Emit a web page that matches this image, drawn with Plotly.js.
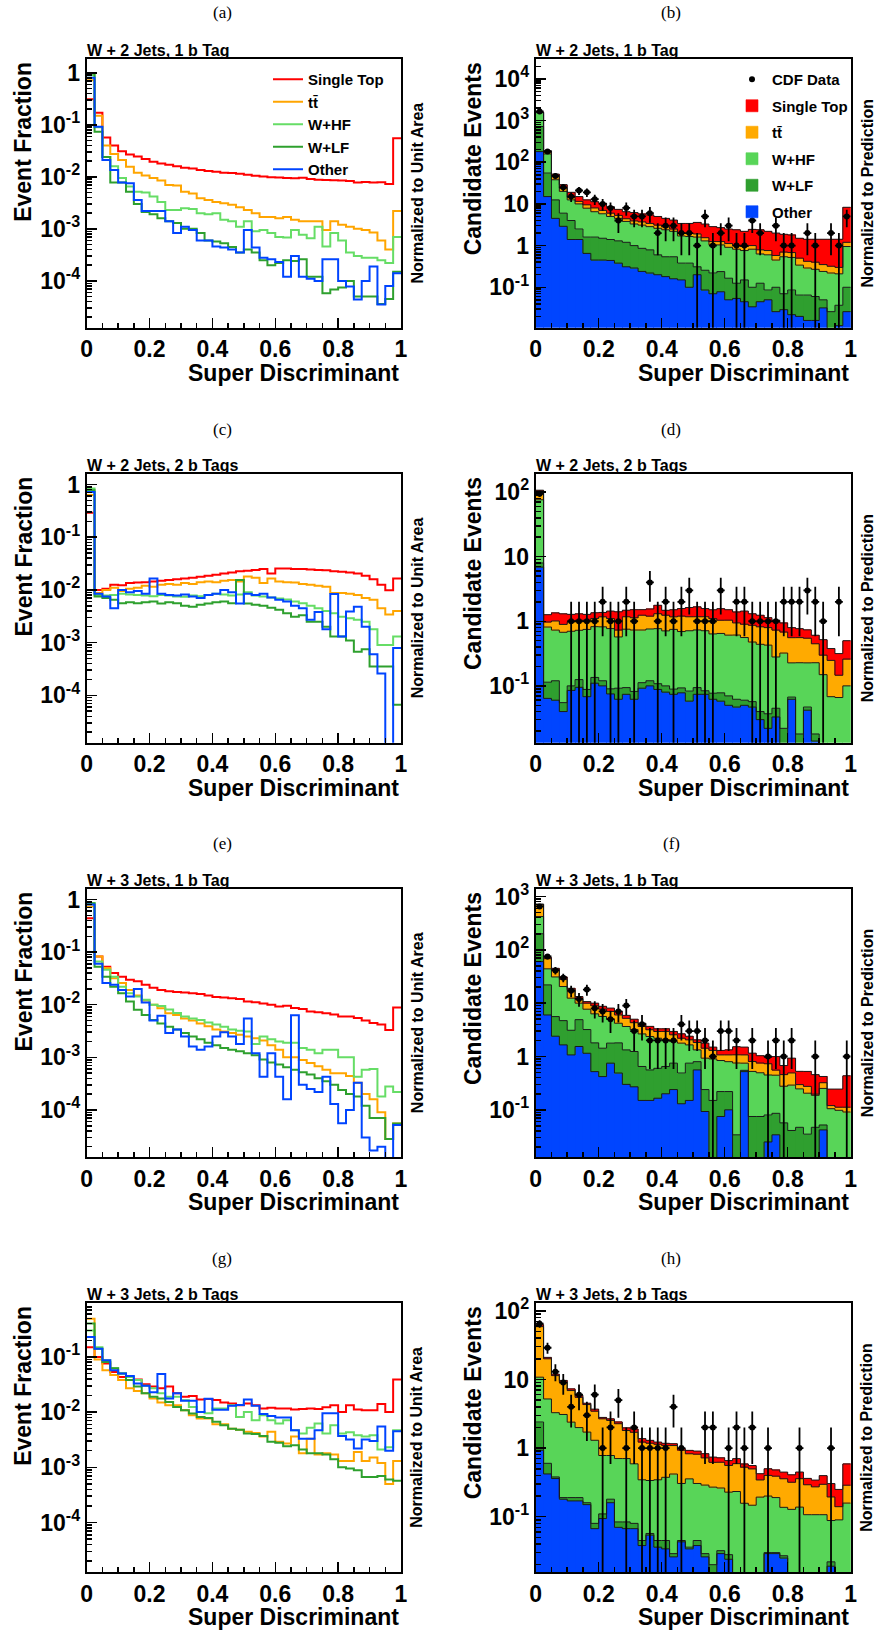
<!DOCTYPE html>
<html><head><meta charset="utf-8">
<script src="https://cdn.plot.ly/plotly-3.0.1.min.js"></script>
<style>html,body{margin:0;padding:0;background:#fff}</style>
</head><body>
<div id="chart" style="width:878px;height:1634px"></div>
<script>
// ---------------- DATA (40 bins of the Super Discriminant, 0..1) ----------------
const processNames = ['Single Top', 't\u0074\u0304', 'W+HF', 'W+LF', 'Other'];
const panelTitles = ['W + 2 Jets, 1 b Tag', 'W + 2 Jets, 2 b Tags', 'W + 3 Jets, 1 b Tag', 'W + 3 Jets, 2 b Tags'];
const panelLetters = ['(a)', '(b)', '(c)', '(d)', '(e)', '(f)', '(g)', '(h)'];

// (a) W+2 jets, 1 tag : normalized shapes
const a_st = [0.31,0.17,0.057,0.040,0.031,0.027,0.0245,0.022,0.0195,0.018,0.017,0.016,0.015,0.0145,0.0135,0.013,0.0125,0.012,0.0118,0.0115,0.011,0.0105,0.0102,0.0098,0.0097,0.0095,0.0094,0.0096,0.0091,0.0088,0.0087,0.0086,0.0085,0.0083,0.0078,0.0080,0.0078,0.0079,0.0073,0.055];
const a_tt = [0.72,0.15,0.040,0.0275,0.021,0.0157,0.012,0.0106,0.0095,0.0085,0.007,0.0068,0.0052,0.0048,0.0039,0.0036,0.0033,0.0031,0.0029,0.0026,0.0023,0.0020,0.0017,0.0017,0.0016,0.0017,0.0015,0.0014,0.0014,0.0014,0.00095,0.0014,0.0012,0.0011,0.001,0.00095,0.00085,0.0006,0.0004,0.0022];
const a_whf = [0.9,0.09,0.024,0.016,0.0095,0.0065,0.0052,0.005,0.0042,0.0033,0.0023,0.0023,0.0025,0.0024,0.002,0.0019,0.002,0.0015,0.0014,0.0011,0.0014,0.0009,0.00095,0.00083,0.0007,0.00068,0.00095,0.00077,0.00066,0.0011,0.00046,0.00083,0.0006,0.00035,0.0003,0.00028,0.00028,0.00025,0.00022,0.0007];
const a_wlf = [0.97,0.074,0.024,0.0078,0.0078,0.0052,0.003,0.0021,0.0019,0.0016,0.0014,0.0013,0.001,0.001,0.00083,0.0006,0.00057,0.00053,0.00045,0.00035,0.0004,0.00035,0.00025,0.0002,0.00022,0.00025,0.00024,0.00026,0.00012,0.00012,0.000058,0.000068,0.000075,0.0001,0.00005,0.00005,0.00005,0.000036,0.000045,0.00015];
const a_other = [0.8,0.092,0.021,0.0135,0.0078,0.0075,0.0036,0.0022,0.0022,0.0022,0.0014,0.00083,0.0011,0.00095,0.0006,0.0006,0.00046,0.00044,0.0004,0.00035,0.00095,0.00044,0.00028,0.00026,0.00023,0.00012,0.0003,0.00012,0.00011,0.0001,0.00026,0.00026,0.0001,0.000078,0.000044,0.0001,0.00019,0.000035,0.00008,0.00014];

// (c) W+2 jets, 2 tags
const c_st = [0.29,0.0100,0.0105,0.0125,0.0122,0.0135,0.0138,0.0140,0.0145,0.0150,0.0155,0.0160,0.0165,0.0170,0.0178,0.0185,0.0195,0.0205,0.0215,0.0225,0.0230,0.0240,0.0250,0.0205,0.0255,0.0255,0.0250,0.0250,0.0245,0.0240,0.0235,0.0225,0.0220,0.0215,0.0205,0.0185,0.0160,0.0125,0.0098,0.0165];
const c_tt = [0.63,0.0087,0.0100,0.0110,0.0095,0.0105,0.0110,0.0120,0.0115,0.0125,0.0130,0.0125,0.0135,0.0130,0.0140,0.0145,0.0140,0.0150,0.0155,0.0145,0.0180,0.0170,0.0135,0.0165,0.0145,0.0140,0.0138,0.0130,0.0125,0.0120,0.0115,0.0087,0.0087,0.0085,0.0080,0.0070,0.0065,0.0045,0.0034,0.0040];
const c_whf = [0.84,0.0080,0.0078,0.0080,0.0085,0.0082,0.0080,0.0078,0.0076,0.0080,0.0078,0.0075,0.0074,0.0078,0.0076,0.0080,0.0085,0.0082,0.0078,0.0082,0.0090,0.0078,0.0075,0.0072,0.0069,0.0066,0.0060,0.0056,0.0050,0.0045,0.0040,0.0036,0.0031,0.0029,0.0027,0.0025,0.0018,0.0009,0.0009,0.0013];
const c_wlf = [0.78,0.0075,0.0070,0.0065,0.0056,0.0058,0.0056,0.0058,0.0060,0.0055,0.0058,0.0056,0.0050,0.0048,0.0052,0.0055,0.0058,0.0060,0.0056,0.0155,0.0055,0.0052,0.0050,0.0046,0.0042,0.0036,0.0031,0.0033,0.0025,0.0025,0.0020,0.0013,0.0013,0.0011,0.00067,0.00075,0.00035,0.00035,0.00035,0.000066];
const c_other = [0.72,0.0085,0.0075,0.0045,0.0100,0.0090,0.0095,0.0085,0.0165,0.0085,0.0080,0.0078,0.0082,0.0075,0.0070,0.0080,0.0085,0.0100,0.0090,0.0055,0.0085,0.0080,0.0085,0.0072,0.0065,0.0060,0.0050,0.0045,0.0027,0.0038,0.0018,0.0084,0.0013,0.0039,0.0048,0.0020,0.0006,0.00026,0.000001,0.00079];

// (e) W+3 jets, 1 tag
const e_st = [0.44,0.083,0.053,0.040,0.034,0.030,0.028,0.024,0.021,0.019,0.018,0.0175,0.017,0.0165,0.016,0.015,0.014,0.0138,0.0133,0.0128,0.0115,0.0112,0.0106,0.0100,0.0093,0.0096,0.0087,0.0083,0.0074,0.0072,0.0069,0.0065,0.0060,0.0060,0.0056,0.0050,0.0045,0.0042,0.0033,0.0089];
const e_tt = [0.74,0.083,0.050,0.032,0.026,0.019,0.015,0.012,0.010,0.0086,0.0069,0.0064,0.0055,0.0050,0.0044,0.0039,0.0034,0.0031,0.0029,0.0027,0.0025,0.0023,0.0021,0.0017,0.0014,0.0010,0.0010,0.00089,0.00078,0.00068,0.00058,0.00050,0.00050,0.00044,0.00033,0.00020,0.00016,0.00009,0.000028,0.000055];
const e_whf = [0.85,0.066,0.046,0.034,0.022,0.0165,0.0144,0.0124,0.010,0.0095,0.0081,0.0070,0.0060,0.0055,0.0051,0.0046,0.0042,0.0038,0.0034,0.0032,0.0031,0.0018,0.0025,0.0022,0.0020,0.0019,0.0019,0.0015,0.0014,0.0012,0.0014,0.0014,0.0010,0.0010,0.00043,0.00058,0.0006,0.00018,0.00028,0.00022];
const e_wlf = [0.85,0.053,0.034,0.022,0.0165,0.0115,0.008,0.0064,0.0051,0.0044,0.0038,0.0034,0.0029,0.0025,0.0022,0.0019,0.0017,0.0015,0.0014,0.0013,0.0012,0.0011,0.00091,0.0008,0.00073,0.00065,0.00058,0.00052,0.00047,0.0004,0.00035,0.0003,0.00024,0.0002,0.00018,0.00012,0.00007,0.00007,0.000028,0.000055];
const e_other = [0.8,0.06,0.026,0.024,0.019,0.0144,0.02,0.011,0.005,0.0062,0.0029,0.0034,0.0025,0.0016,0.0014,0.0016,0.0025,0.003,0.0025,0.0018,0.0055,0.0012,0.00043,0.0012,0.00043,0.00016,0.0063,0.0003,0.00025,0.00022,0.00043,0.00013,0.000056,0.0001,0.00033,0.00003,0.000017,0.00002,0.000001,0.000052];

// (g) W+3 jets, 2 tags
const g_st = [0.15,0.10,0.076,0.053,0.043,0.038,0.039,0.032,0.029,0.027,0.029,0.022,0.019,0.0195,0.017,0.0172,0.0165,0.015,0.0143,0.0133,0.0143,0.0133,0.0116,0.012,0.0116,0.0116,0.0111,0.0114,0.0116,0.0114,0.0123,0.0133,0.0100,0.0133,0.0111,0.0108,0.0108,0.0140,0.0100,0.039];
const g_tt = [0.49,0.09,0.057,0.047,0.038,0.027,0.024,0.022,0.0176,0.015,0.0133,0.0133,0.0108,0.0088,0.0077,0.0077,0.006,0.006,0.005,0.0048,0.0044,0.0042,0.0036,0.0044,0.0029,0.0027,0.0036,0.0018,0.0033,0.0017,0.0018,0.0017,0.0013,0.0013,0.0019,0.0013,0.0015,0.0012,0.0005,0.0013];
const g_whf = [0.3,0.15,0.087,0.062,0.05,0.043,0.038,0.03,0.027,0.022,0.019,0.019,0.0164,0.0124,0.01,0.0095,0.0116,0.0116,0.0133,0.0082,0.01,0.0071,0.0088,0.0071,0.0062,0.0071,0.0047,0.0041,0.0052,0.0062,0.0041,0.0058,0.0041,0.0043,0.0038,0.0036,0.0038,0.0021,0.0023,0.0047];
const g_wlf = [0.4,0.14,0.081,0.062,0.05,0.038,0.029,0.022,0.019,0.0176,0.0153,0.0124,0.0108,0.0094,0.0082,0.0078,0.0067,0.0058,0.005,0.0048,0.0041,0.004,0.0037,0.0029,0.0028,0.0024,0.0025,0.0021,0.0018,0.0018,0.0017,0.0014,0.001,0.00095,0.00089,0.00067,0.00067,0.0007,0.0006,0.00057];
const g_other = [0.23,0.14,0.087,0.057,0.05,0.045,0.033,0.03,0.023,0.049,0.0176,0.022,0.016,0.016,0.01,0.0175,0.011,0.011,0.013,0.0135,0.017,0.013,0.0092,0.0085,0.008,0.008,0.0047,0.0033,0.0033,0.0047,0.0095,0.0095,0.0037,0.0032,0.0022,0.0032,0.003,0.0055,0.002,0.0045];

// (b) W+2 jets, 1 tag : predicted events per process and CDF data
const b_other = [180,15,4.5,2.9,1.4,1.4,0.65,0.45,0.45,0.44,0.38,0.31,0.29,0.24,0.22,0.2,0.18,0.16,0.15,0.1,0.2,0.086,0.07,0.078,0.05,0.054,0.045,0.034,0.045,0.05,0.026,0.029,0.022,0.02,0.016,0.016,0.032,0.008,0.012,0.026];
const b_wlf = [540,40,8.0,3.1,2.6,1.1,0.95,1.15,1.05,0.96,0.92,0.89,0.71,0.62,0.57,0.4,0.36,0.38,0.23,0.28,0.11,0.17,0.15,0.16,0.115,0.071,0.105,0.066,0.08,0.036,0.074,0.041,0.064,0.045,0.049,0.044,0.018,0.018,0.025,0.074];
const b_whf = [830,103,25.5,14,8.5,7.5,6.3,4.9,4.3,3.6,3.2,2.6,2.3,2.24,2.06,2.0,1.86,1.66,1.32,1.27,1.29,1.04,0.82,0.8,0.745,0.695,0.61,0.72,0.505,0.514,0.35,0.47,0.434,0.275,0.225,0.21,0.19,0.194,0.173,0.85];
const b_tt = [20,17,7,4,2,1.5,1.6,1.5,1.2,1.0,0.8,0.6,0.6,0.6,0.55,0.5,0.4,0.3,0.3,0.3,0.3,0.25,0.21,0.21,0.21,0.18,0.19,0.18,0.16,0.16,0.13,0.16,0.16,0.16,0.13,0.13,0.11,0.1,0.09,0.25];
const b_st = [30,15,7,5,4.5,3.5,3.0,3.3,3.4,2.6,2.1,2.1,2.3,2.05,2.05,1.9,1.7,1.6,1.4,1.45,1.7,1.75,1.6,1.45,1.38,1.4,1.25,1.45,1.61,1.44,1.42,1.17,1.12,1.0,1.0,1.02,1.07,1.1,1.12,7.1];
const b_data = [1650,180,47,25,15,21,19,13,10,8,4,8,5,5,6,2,3,3,2,2,1,5,1,2,3,1,1,4,2,0,3,1,1,0,2,1,0,2,1,5];

// (d) W+2 jets, 2 tags
const d_other = [6.9,0.064,0.06,0.04,0.085,0.095,0.068,0.11,0.1,0.075,0.062,0.074,0.062,0.092,0.1,0.088,0.08,0.074,0.078,0.058,0.074,0.074,0.062,0.058,0.05,0.047,0.05,0.047,0.03,0.022,0.033,0.012,0.062,0.008,0.042,0.014,0.006,0.005,0.004,0.004];
const d_wlf = [1.1,0.05,0.06,0.015,0.015,0.03,0.02,0.025,0.02,0.015,0.03,0.02,0.02,0.02,0.02,0.02,0.02,0.015,0.015,0.025,0.02,0.01,0.015,0.02,0.02,0.015,0.01,0.01,0.01,0.015,0.012,0.01,0.005,0.01,0.005,0.004,0.003,0.003,0.002,0.002];
const d_whf = [68,0.7,0.61,0.62,0.6,0.6,0.66,0.69,0.7,0.68,0.48,0.66,0.65,0.62,0.64,0.66,0.61,0.66,0.6,0.63,0.64,0.63,0.56,0.57,0.54,0.55,0.5,0.42,0.4,0.39,0.235,0.3,0.16,0.21,0.18,0.21,0.14,0.06,0.06,0.094];
const d_tt = [28,0.16,0.28,0.22,0.28,0.31,0.29,0.28,0.35,0.33,0.16,0.42,0.4,0.51,0.44,0.54,0.53,0.42,0.51,0.46,0.44,0.46,0.46,0.39,0.43,0.33,0.34,0.39,0.38,0.37,0.45,0.36,0.33,0.33,0.32,0.22,0.15,0.18,0.08,0.16];
const d_st = [3,0.29,0.34,0.41,0.3,0.27,0.24,0.25,0.2,0.34,0.67,0.31,0.38,0.27,0.35,0.46,0.24,0.34,0.37,0.46,0.5,0.4,0.41,0.53,0.47,0.45,0.54,0.44,0.42,0.34,0.31,0.26,0.24,0.21,0.19,0.16,0.22,0.13,0.17,0.24];
const d_data = [94,0,0,0,1,1,1,1,2,1,1,2,1,0,4,1,2,1,2,3,1,1,1,3,0,2,2,1,1,1,1,2,2,2,3,2,1,0,2,0];

// (f) W+3 jets, 1 tag
const f_other = [60,6,2.4,1.65,1.07,1.54,1.15,0.52,0.42,0.75,0.49,0.3,0.27,0.15,0.15,0.165,0.2,0.24,0.13,0.15,0.56,0.093,0.01,0.075,0.1,0.005,0.52,0.005,0.005,0.025,0.034,0.005,0.005,0.005,0.005,0.005,0.042,0.005,0.005,0.005];
const f_wlf = [140,16,3.2,3.05,2.03,3.36,2.05,1.28,1.01,1.03,1.31,1.03,0.97,0.5,0.41,0.435,0.45,0.51,0.36,0.6,0.24,0.147,0.14,0.145,0.12,0.029,0.03,0.07,0.07,0.055,0.052,0.052,0.036,0.042,0.03,0.042,0.01,0.005,0.005,0.005];
const f_whf = [220,22,25.4,15.8,9.3,5.1,4.5,4.5,4.2,3.2,2.4,2.32,1.96,2.0,1.81,1.6,1.4,1.15,1.29,0.9,0.53,0.69,0.75,0.62,0.58,0.72,0.2,0.45,0.42,0.37,0.36,0.22,0.25,0.2,0.17,0.14,0.2,0.095,0.088,0.081];
const f_tt = [290,24,11,7.5,5.4,2.1,2.3,2.6,2.1,2.0,1.8,1.55,1.1,1.0,0.8,0.74,0.9,0.65,0.42,0.4,0.5,0.5,0.4,0.23,0.27,0.32,0.32,0.28,0.26,0.28,0.11,0.18,0.2,0.05,0.07,0.01,0.07,0.015,0.014,0.021];
const f_st = [10,4,3,3,1.2,1.2,0.7,1.1,1.0,1.1,1.0,0.7,0.7,0.55,0.5,0.36,0.36,0.4,0.46,0.35,0.22,0.35,0.2,0.23,0.26,0.45,0.43,0.35,0.28,0.24,0.44,0.22,0.44,0.23,0.25,0.26,0.1,0.125,0.133,0.323];
const f_data = [650,75,41,30,17,12,18,8,7,5,7,9,3,4,2,2,2,2,4,3,3,2,1,3,3,2,0,2,0,1,2,1,2,0,0,1,0,0,0,1];

// (h) W+3 jets, 2 tags
const h_other = [0.93,0.42,0.36,0.18,0.17,0.17,0.15,0.067,0.094,0.16,0.07,0.067,0.067,0.038,0.054,0.036,0.034,0.026,0.043,0.034,0.038,0.026,0.005,0.029,0.024,0.005,0.003,0.003,0.003,0.029,0.029,0.025,0.003,0.003,0.003,0.003,0.003,0.019,0.003,0.003];
const h_wlf = [1.47,0.18,0.02,0.01,0.02,0.02,0.01,0.013,0.016,0.02,0.014,0.017,0.013,0.007,0.003,0.009,0.011,0.003,0.002,0.002,0.007,0.003,0.015,0.003,0.004,0.008,0.004,0.004,0.01,0.001,0.001,0.002,0.005,0.005,0.004,0.004,0.004,0.003,0.004,0.005];
const h_whf = [8.4,4.6,2.9,2.9,2.2,1.8,1.55,1.22,0.67,0.6,0.62,0.62,0.51,0.3,0.28,0.3,0.33,0.39,0.26,0.32,0.26,0.26,0.25,0.23,0.2,0.22,0.15,0.14,0.18,0.17,0.16,0.11,0.12,0.13,0.1,0.1,0.1,0.066,0.083,0.15];
const h_tt = [48,14.8,8.1,6.0,4.5,3.5,2.6,2.15,1.89,1.75,1.56,1.1,1.11,0.88,0.84,0.79,0.71,0.67,0.63,0.47,0.51,0.43,0.35,0.36,0.33,0.36,0.37,0.35,0.15,0.2,0.2,0.22,0.19,0.22,0.185,0.165,0.19,0.106,0.05,0.13];
const h_st = [4,1,0.6,0.6,0.4,0.4,0.2,0.25,0.13,0.14,0.14,0.17,0.2,0.15,0.12,0.09,0.09,0.07,0.05,0.1,0.09,0.11,0.12,0.1,0.1,0.11,0.06,0.06,0.08,0.1,0.09,0.09,0.09,0.09,0.07,0.07,0.1,0.11,0.11,0.3];
const h_data = [65,29,13,9,4,6,3,6,1,2,5,1,2,1,1,1,1,4,1,0,0,2,2,0,1,2,1,2,0,1,0,0,0,1,0,0,0,1,0,0];

// ---------------- STYLE / LAYOUT ----------------
const W = 878, H = 1634;
const FONT = 'Liberation Sans, Arial, Helvetica, sans-serif';
const lineColors = ['#ff0000', '#ffa500', '#66dd66', '#2ea02e', '#0044ff'];
const fillColors = ['#ff0000', '#ffaa00', '#58d558', '#2f9f2f', '#0045ff'];
const colPx = [[86.7, 401.0], [535.7, 850.7]];
const rowPx = [[59.3, 327.7], [474.0, 742.7], [889.0, 1157.3], [1303.3, 1572.3]];
const letterY = [13, 429, 843, 1258];

const nBins = 40, binW = 1 / nBins;
const edges = Array.from({length: nBins + 1}, (_, i) => i * binW);
const centers = Array.from({length: nBins}, (_, i) => (i + 0.5) * binW);
const stepY = v => v.concat([v[v.length - 1]]);

const leftPanels = [
  {row: 0, range: [-4.9, 0.26], exps: [-4, -3, -2, -1, 0], s: [a_st, a_tt, a_whf, a_wlf, a_other]},
  {row: 1, range: [-4.9, 0.2], exps: [-4, -3, -2, -1, 0], s: [c_st, c_tt, c_whf, c_wlf, c_other]},
  {row: 2, range: [-4.9, 0.2], exps: [-4, -3, -2, -1, 0], s: [e_st, e_tt, e_whf, e_wlf, e_other]},
  {row: 3, range: [-4.9, -0.03], exps: [-4, -3, -2, -1], s: [g_st, g_tt, g_whf, g_wlf, g_other]}
];
const rightPanels = [
  {row: 0, range: [-1.97, 4.47], exps: [-1, 0, 1, 2, 3, 4], s: [b_st, b_tt, b_whf, b_wlf, b_other], data: b_data},
  {row: 1, range: [-1.88, 2.28], exps: [-1, 0, 1, 2], s: [d_st, d_tt, d_whf, d_wlf, d_other], data: d_data},
  {row: 2, range: [-1.89, 3.14], exps: [-1, 0, 1, 2, 3], s: [f_st, f_tt, f_whf, f_wlf, f_other], data: f_data},
  {row: 3, range: [-1.81, 2.11], exps: [-1, 0, 1, 2], s: [h_st, h_tt, h_whf, h_wlf, h_other], data: h_data}
];

const expLabel = e => e === 0 ? '1' : e === 1 ? '10' : '10<sup>' + e + '</sup>';
function minorLog(range) {
  const out = [];
  for (let d = Math.floor(range[0]) - 1; d <= Math.ceil(range[1]); d++)
    for (let m = 2; m <= 9; m++) out.push(m * Math.pow(10, d));
  return out;
}
const tickFont = {family: FONT, size: 23, color: '#000', weight: 'bold'};
const xMajor = [0, 0.2, 0.4, 0.6, 0.8, 1];
const xMajorText = ['0', '0.2', '0.4', '0.6', '0.8', '1'];
const xMinor = Array.from({length: 21}, (_, i) => i * 0.05);

const traces = [];
const layout = {
  width: W, height: H, margin: {l: 0, r: 0, t: 0, b: 0},
  paper_bgcolor: '#fff', plot_bgcolor: '#fff',
  barmode: 'stack', bargap: 0, hovermode: false,
  font: {family: FONT, color: '#000'},
  annotations: [],
  legend: {x: 268 / W, y: 1 - 63 / H, xanchor: 'left', yanchor: 'top', bgcolor: 'rgba(0,0,0,0)',
           font: {family: FONT, size: 15, weight: 'bold', color: '#000'}, traceorder: 'normal'},
  legend2: {x: 732 / W, y: 1 - 63 / H, xanchor: 'left', yanchor: 'top', bgcolor: 'rgba(0,0,0,0)',
            font: {family: FONT, size: 15, weight: 'bold', color: '#000'}, traceorder: 'grouped', tracegroupgap: 4}
};

function setAxes(k, col, row, range, exps) {
  const sfx = k === 1 ? '' : String(k);
  const [x0, x1] = colPx[col], [y0, y1] = rowPx[row];
  layout['xaxis' + sfx] = {
    domain: [x0 / W, x1 / W], anchor: 'y' + sfx, range: [0, 1], fixedrange: true,
    showline: true, linewidth: 2, linecolor: '#000', mirror: true, zeroline: false, showgrid: false,
    ticks: 'inside', ticklen: 10, tickwidth: 1.5, tickcolor: '#000',
    tickmode: 'array', tickvals: xMajor, ticktext: xMajorText, tickfont: tickFont,
    minor: {tickmode: 'array', tickvals: xMinor, ticks: 'inside', ticklen: 5, tickwidth: 1.5, tickcolor: '#000', showgrid: false}
  };
  layout['yaxis' + sfx] = {
    domain: [1 - y1 / H, 1 - y0 / H], anchor: 'x' + sfx, type: 'log', range: range, fixedrange: true,
    showline: true, linewidth: 2, linecolor: '#000', mirror: true, zeroline: false, showgrid: false,
    ticks: 'inside', ticklen: 10, tickwidth: 1.5, tickcolor: '#000',
    tickmode: 'array', tickvals: exps.map(e => Math.pow(10, e)), ticktext: exps.map(expLabel), tickfont: tickFont,
    minor: {tickmode: 'array', tickvals: minorLog(range), ticks: 'inside', ticklen: 5, tickwidth: 1.5, tickcolor: '#000', showgrid: false}
  };
  return sfx;
}

function addText(col, row, k, yTitle, sideText) {
  const [x0, x1] = colPx[col], [y0, y1] = rowPx[row];
  const A = layout.annotations;
  A.push({xref: 'paper', yref: 'paper', x: (col === 0 ? 222 : 671) / W, y: 1 - letterY[row] / H,
          text: panelLetters[k - 1], showarrow: false, xanchor: 'center', yanchor: 'middle',
          font: {family: 'Liberation Serif, DejaVu Serif, serif', size: 17, color: '#000'}});
  A.push({xref: 'paper', yref: 'paper', x: x0 / W, y: 1 - y0 / H, text: panelTitles[row], showarrow: false,
          xanchor: 'left', yanchor: 'bottom', xshift: -2, yshift: -2,
          font: {family: FONT, size: 16, weight: 'bold', color: '#000'}});
  A.push({xref: 'paper', yref: 'paper', x: (col === 0 ? 23 : 473) / W, y: 1 - (y0 + 0.5) / H, text: yTitle,
          showarrow: false, textangle: -90, xanchor: 'center', yanchor: 'top',
          font: {family: FONT, size: 23, weight: 'bold', color: '#000'}});
  A.push({xref: 'paper', yref: 'paper', x: x1 / W, y: 1 - (y1 + 45) / H, text: 'Super Discriminant',
          showarrow: false, xanchor: 'right', yanchor: 'middle',
          font: {family: FONT, size: 23, weight: 'bold', color: '#000'}});
  A.push({xref: 'paper', yref: 'paper', x: (col === 0 ? 417 : 867) / W, y: 1 - (y0 + y1) / 2 / H, text: sideText,
          showarrow: false, textangle: -90, xanchor: 'center', yanchor: 'middle',
          font: {family: FONT, size: 16, weight: 'bold', color: '#000'}});
}

// Left column: normalized shape comparisons (step lines)
leftPanels.forEach(p => {
  const k = 2 * p.row + 1;
  const sfx = setAxes(k, 0, p.row, p.range, p.exps);
  p.s.forEach((vals, j) => {
    traces.push({type: 'scatter', mode: 'lines', x: edges, y: stepY(vals), name: processNames[j],
      xaxis: 'x' + sfx, yaxis: 'y' + sfx, line: {shape: 'hv', color: lineColors[j], width: 2},
      showlegend: k === 1, legend: 'legend'});
  });
  addText(0, p.row, k, 'Event Fraction', 'Normalized to Unit Area');
});

// Right column: stacked predictions + data
rightPanels.forEach(p => {
  const k = 2 * p.row + 2;
  const sfx = setAxes(k, 1, p.row, p.range, p.exps);
  const order = [4, 3, 2, 1, 0]; // stack bottom -> top: Other, W+LF, W+HF, tt, Single Top
  const cum = new Array(nBins).fill(0);
  const levels = [];
  order.forEach(j => {
    const vals = p.s[j];
    traces.push({type: 'bar', x: centers, y: vals, width: binW, name: processNames[j],
      xaxis: 'x' + sfx, yaxis: 'y' + sfx,
      marker: {color: fillColors[j], line: {color: fillColors[j], width: 0.6}},
      showlegend: k === 2, legend: 'legend2', legendgroup: processNames[j], legendrank: 2 + j});
    for (let i = 0; i < nBins; i++) cum[i] += vals[i];
    levels.push(cum.slice());
  });
  levels.forEach(lv => {
    traces.push({type: 'scatter', mode: 'lines', x: edges, y: stepY(lv), xaxis: 'x' + sfx, yaxis: 'y' + sfx,
      line: {shape: 'hv', color: '#1a1a1a', width: 1}, showlegend: false, hoverinfo: 'skip'});
  });
  const dx = [], dy = [], de = [];
  p.data.forEach((n, i) => { if (n > 0) { dx.push(centers[i]); dy.push(n); de.push(Math.sqrt(n)); } });
  traces.push({type: 'scatter', mode: 'markers', x: dx, y: dy, name: 'CDF Data', xaxis: 'x' + sfx, yaxis: 'y' + sfx,
    marker: {color: '#000', size: 6},
    error_y: {type: 'data', array: de, color: '#000', thickness: 1.8, width: 0},
    error_x: {type: 'constant', value: binW / 2, color: '#000', thickness: 1.8, width: 0},
    showlegend: k === 2, legend: 'legend2', legendgroup: 'CDF Data', legendrank: 1});
  addText(1, p.row, k, 'Candidate Events', 'Normalized to Prediction');
});

Plotly.newPlot('chart', traces, layout, {staticPlot: true, displayModeBar: false});
</script>
</body></html>
